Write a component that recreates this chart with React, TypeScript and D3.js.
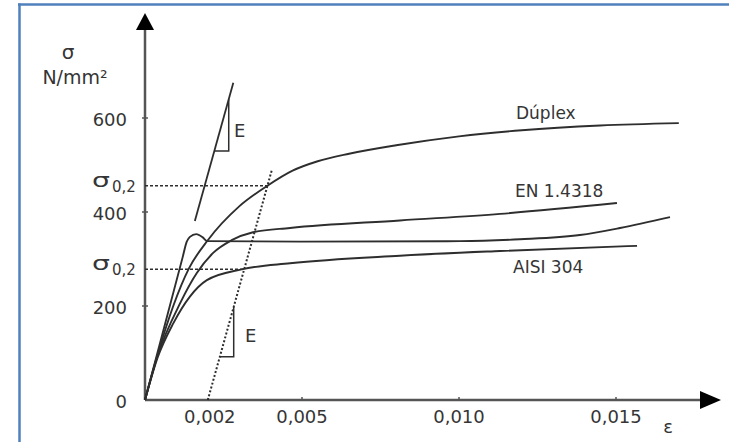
import React from 'react';
import * as d3 from 'd3';

// stress-strain curves, strain (-) vs stress (N/mm²)
const duplexStrain = [0, 0.0004, 0.0009, 0.0014, 0.002, 0.003, 0.0039, 0.0047, 0.0055, 0.0065, 0.008, 0.010, 0.012, 0.0145, 0.017];
const duplexStress = [0, 96, 200, 280, 340, 412, 456, 488, 508, 524, 542, 561, 574, 584, 589];

const enStrain = [0, 0.0004, 0.00112, 0.00165, 0.00217, 0.00276, 0.00344, 0.00462, 0.00812, 0.01131, 0.01503];
const enStress = [0, 94, 206, 270, 313, 340, 357, 366, 382, 396, 419];

const aisiStrain = [0, 0.0004, 0.0009, 0.00143, 0.00197, 0.00308, 0.00462, 0.00812, 0.01131, 0.01567];
const aisiStress = [0, 90, 163, 220, 255, 278, 291, 307, 317, 328];

// unlabelled curve with the yield point drop
const carbonStrain = [0, 0.0012, 0.00133, 0.00143, 0.00163, 0.00184, 0.00198, 0.00494, 0.01003, 0.01194, 0.01385, 0.01513, 0.01672];
const carbonStress = [0, 304, 337, 347, 353, 346, 338, 337, 338, 342, 351, 366, 389];

const curveNames = ['Dúplex', 'EN 1.4318', 'AISI 304'];

const yTicks = [0, 200, 400, 600];
const xTicks = [0.005, 0.010, 0.015];
const xTickLabels = ['0,005', '0,010', '0,015'];
const offsetStrain = 0.002;
const offsetLabel = '0,002';
const sigma02 = [456, 278];
const E = 240000;

const W = 729;
const H = 442;

const App = () => {
  const x = d3.scaleLinear().domain([0, 0.015]).range([145, 616]);
  const y = d3.scaleLinear().domain([0, 600]).range([400, 118]);

  const line = d3.line<[number, number]>()
    .x(d => x(d[0]))
    .y(d => y(d[1]))
    .curve(d3.curveMonotoneX);

  const zip = (a: number[], b: number[]) => a.map((v, i) => [v, b[i]] as [number, number]);
  const curves = [
    zip(duplexStrain, duplexStress),
    zip(enStrain, enStress),
    zip(aisiStrain, aisiStress),
    zip(carbonStrain, carbonStress),
  ];

  const straight = d3.line<[number, number]>().x(d => x(d[0])).y(d => y(d[1]));

  // elastic line (upper) and 0.2% offset line
  const elastic = straight([[381 / E, 381], [675 / E, 675]]);
  const offset = straight([[offsetStrain, 0], [offsetStrain + 490 / E, 490]]);
  const triUp = straight([[530 / E, 530], [640 / E, 530], [640 / E, 640]]);
  const triLow = straight([[offsetStrain + 92 / E, 92], [offsetStrain + 198 / E, 92], [offsetStrain + 198 / E, 198]]);

  const ink = '#2e2e2e';
  const txt = '#353535';
  const font = '"DejaVu Sans", sans-serif';

  return (
    <svg width={W} height={H} style={{ position: 'absolute', left: 0, top: 0, display: 'block', background: '#fff' }}>
      {/* frame */}
      <line x1={18} y1={4.5} x2={W} y2={4.5} stroke="#4f81bd" strokeWidth={2.5} />
      <line x1={19.5} y1={3.5} x2={19.5} y2={H} stroke="#4f81bd" strokeWidth={2.5} />

      {/* axes */}
      <line x1={x(0)} y1={y(0)} x2={x(0)} y2={28} stroke="#555" strokeWidth={2.5} />
      <line x1={x(0)} y1={y(0)} x2={702} y2={y(0)} stroke="#555" strokeWidth={2.5} />
      <path d={`M${x(0)},13 L${x(0) - 9},30 L${x(0) + 9},30 Z`} fill="#000" />
      <path d={`M721,${y(0)} L700,${y(0) - 9} L700,${y(0) + 9} Z`} fill="#000" />

      {yTicks.filter(t => t > 0).map(t => (
        <line key={t} x1={x(0) - 3} x2={x(0) + 3} y1={y(t)} y2={y(t)} stroke="#555" strokeWidth={1.5} />
      ))}
      {xTicks.map(t => (
        <line key={t} x1={x(t)} x2={x(t)} y1={y(0) - 3} y2={y(0)} stroke="#555" strokeWidth={1.5} />
      ))}

      <g fontFamily={font} fontSize={18} fill={txt}>
        {yTicks.map(t => (
          <text key={t} x={127} y={y(t) + 8} textAnchor="end">{t}</text>
        ))}
        {xTicks.map((t, i) => (
          <text key={t} x={x(t)} y={423} textAnchor="middle">{xTickLabels[i]}</text>
        ))}
        <text x={x(offsetStrain) + 2} y={423} textAnchor="middle">{offsetLabel}</text>
      </g>

      {/* axis titles */}
      <text x={68} y={59} fontFamily={font} fontSize={20} fill={txt} textAnchor="middle">σ</text>
      <text x={75} y={84} fontFamily={font} fontSize={19} fill={txt} textAnchor="middle">N/mm²</text>
      <text x={668} y={433} fontFamily={font} fontSize={18} fill={txt} textAnchor="middle">ε</text>

      {/* sigma 0.2 marks */}
      {sigma02.map(s => (
        <g key={s}>
          <line x1={x(0)} y1={y(s)} x2={x(offsetStrain + s / E)} y2={y(s)} stroke={ink} strokeWidth={1.5} strokeDasharray="3,2" />
          <text transform={`translate(92,${y(s) + 1}) scale(1.35,0.95)`} fontFamily={font} fontSize={21} fill={txt}>σ</text>
          <text x={112} y={y(s) + 6} fontFamily={font} fontSize={15} fill={txt}>0,2</text>
        </g>
      ))}

      <path d={offset || ''} fill="none" stroke={ink} strokeWidth={2} strokeDasharray="2,2" />
      <path d={elastic || ''} fill="none" stroke={ink} strokeWidth={1.8} />
      <path d={triUp || ''} fill="none" stroke={ink} strokeWidth={1.5} />
      <path d={triLow || ''} fill="none" stroke={ink} strokeWidth={1.5} />
      <text x={234} y={137} fontFamily={font} fontSize={18} fill={txt}>E</text>
      <text x={245} y={342} fontFamily={font} fontSize={18} fill={txt}>E</text>

      {curves.map((c, i) => (
        <path key={i} d={line(c) || ''} fill="none" stroke={ink} strokeWidth={1.9} />
      ))}

      <g fontFamily={font} fontSize={17} fill={txt}>
        <text x={516} y={119}>{curveNames[0]}</text>
        <text x={515} y={197}>{curveNames[1]}</text>
        <text x={513} y={273}>{curveNames[2]}</text>
      </g>
    </svg>
  );
};

export default App;
